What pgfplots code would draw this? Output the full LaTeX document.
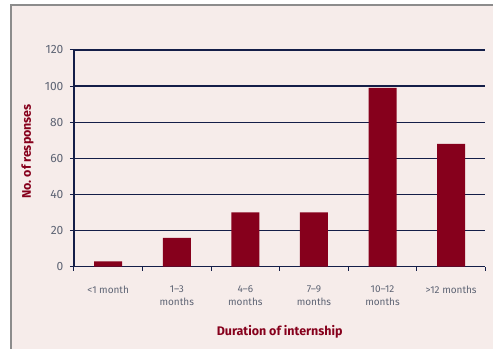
\documentclass[border=0pt]{standalone}
\usepackage{fontspec}
\setmainfont{Fira Sans}
\usepackage{pgfplots}
\pgfplotsset{compat=1.18}

\definecolor{bgpink}{HTML}{F6ECEA}
\definecolor{barred}{HTML}{86001C}
\definecolor{gridnavy}{HTML}{141E48}
\definecolor{ticktext}{HTML}{5E6474}
\definecolor{framegray}{HTML}{8C8C8C}

\begin{document}
\begin{tikzpicture}[x=1pt,y=1pt]
  % panel background and frame
  \path (0,0) rectangle (494,349);
  \fill[bgpink] (11,0) rectangle (494,344);
  \draw[framegray, line width=1.2pt] (11,0) -- (11,344) -- (494,344);
  \begin{axis}[
    at={(74pt,82pt)}, anchor=south west,
    width=412pt, height=217pt, scale only axis,
    xmin=-0.5, xmax=5.5, ymin=0, ymax=120,
    axis x line*=bottom, axis y line*=left,
    axis line style={gridnavy, line width=1.3pt, -},
    ytick={0,20,...,120},
    ymajorgrids, grid style={gridnavy, line width=1.3pt},
    xtick={0,...,5},
    xticklabels={{\textless1 month},{1--3\\months},{4--6\\months},{7--9\\months},{10--12\\months},{\textgreater12 months}},
    minor xtick={-0.5,0.5,...,5.5},
    major x tick style={draw=none},
    minor x tick style={gridnavy, line width=1.1pt},
    y tick style={gridnavy, line width=1.1pt},
    tick align=outside,
    major tick length=4pt, minor tick length=4pt,
    xtick pos=bottom, ytick pos=left,
    tick label style={ticktext},
    yticklabel style={font=\fontsize{12}{12}\selectfont\addfontfeatures{}, xshift=-3pt},
    xticklabel style={font=\fontsize{10}{13}\selectfont, align=center, anchor=north, yshift=-12pt},
    /pgf/number format/assume math mode=true,
    xlabel={Duration of internship},
    ylabel={No.\ of responses},
    label style={barred, font=\fontsize{12.5}{12.5}\selectfont\bfseries},
    xlabel style={at={(axis description cs:0.5,-0.30)}, anchor=center},
    ylabel style={at={(axis description cs:-0.113,0.532)}, anchor=center},
    ybar, bar width=28pt,
    clip=false,
  ]
    \addplot[fill=barred, draw=none] coordinates {
      (0,3) (1,16) (2,30) (3,30) (4,99) (5,68)
    };
  \end{axis}
\end{tikzpicture}
\end{document}
